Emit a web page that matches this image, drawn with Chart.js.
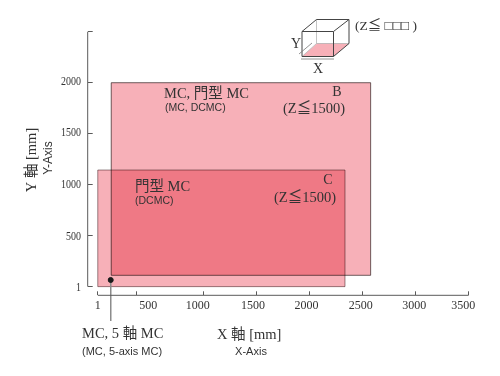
<!DOCTYPE html>
<html>
<head>
<meta charset="utf-8">
<title>MC X-Y range</title>
<script src="https://cdn.jsdelivr.net/npm/chart.js@4"></script>
<style>
    html, body { margin: 0; padding: 0; background: #fff; }
    canvas { display: block; }
</style>
</head>
<body>
<canvas id="myChart" width="500" height="376"></canvas>
<script>
// ranges, in mm
const rangeBX = [128, 2575, 2575, 128, 128];
const rangeBY = [112, 112, 2000, 2000, 112];
const rangeCX = [1, 2333, 2333, 1, 1];
const rangeCY = [1, 1, 1144, 1144, 1];
const pointX = [123];
const pointY = [66];
const leaderX = [123, 123];
const leaderY = [66, -336];

const xTickValues = [1, 371, 1000, 1500, 2000, 2500, 3000, 3500];
const yTickValues = [1, 500, 1000, 1500, 2000, 2500];
// the printed labels do not sit exactly on the ticks
const xLabels = ['1', '500', '1000', '1500', '2000', '2500', '3000', '3500'];
const xLabelValues = [1, 477, 943, 1465, 1970, 2481, 2987, 3449];
const yLabels = ['1', '500', '1000', '1500', '2000'];
const yLabelValues = [-15, 490, 1000, 1510, 2005];

const SERIF = '"Liberation Serif", "Noto Sans CJK JP", serif';
const SANS = '"Liberation Sans", sans-serif';
const TEXT = '#333';
const AXIS = '#5a5a5a';
const PINK = '#f7b0b8';

function toPoints(xs, ys) {
    return xs.map((x, i) => ({ x: x, y: ys[i] }));
}

function text(ctx, str, x, y, size, family, align) {
    ctx.font = size + 'px ' + family;
    ctx.textAlign = align || 'left';
    ctx.textBaseline = 'middle';
    ctx.fillStyle = TEXT;
    ctx.fillText(str, x, y);
}

function line(ctx, pts, color, width) {
    ctx.strokeStyle = color;
    ctx.lineWidth = width;
    ctx.beginPath();
    pts.forEach((p, i) => i ? ctx.lineTo(p[0], p[1]) : ctx.moveTo(p[0], p[1]));
    ctx.stroke();
}

// the two ranges darken each other where they overlap.
// datasets draw last to first and the filler runs before our own
// beforeDatasetDraw, so switch the mode on for the whole pass and off after C
const overlap = {
    id: 'overlap',
    beforeDatasetsDraw(chart) {
        chart.ctx.globalCompositeOperation = 'multiply';
    },
    afterDatasetDraw(chart, args) {
        if (args.index === 2) chart.ctx.globalCompositeOperation = 'source-over';
    }
};

const axisLines = {
    id: 'axisLines',
    afterDatasetsDraw(chart) {
        const ctx = chart.ctx;
        const xs = chart.scales.x;
        const ys = chart.scales.y;
        ctx.save();
        line(ctx, [[xs.left, ys.getPixelForValue(1)], [xs.left, ys.getPixelForValue(2500)]], AXIS, 1);
        line(ctx, [[xs.getPixelForValue(1), ys.bottom], [xs.getPixelForValue(3500), ys.bottom]], AXIS, 1);

        xLabels.forEach((l, i) => text(ctx, l, xs.getPixelForValue(xLabelValues[i]), 306, 12, SERIF, 'center'));
        yLabels.forEach((l, i) => {
            // y labels are printed narrower than the x ones
            ctx.save();
            ctx.translate(81, ys.getPixelForValue(yLabelValues[i]));
            ctx.scale(0.83, 1);
            text(ctx, l, 0, 0, 12, SERIF, 'right');
            ctx.restore();
        });
        ctx.restore();
    }
};

const annotations = {
    id: 'annotations',
    afterDraw(chart) {
        const ctx = chart.ctx;
        ctx.save();

        text(ctx, 'MC, 門型 MC', 164, 94, 14.5, SERIF);
        text(ctx, '(MC, DCMC)', 165, 108, 10.5, SANS);
        text(ctx, 'B', 337, 92, 14, SERIF, 'center');
        text(ctx, '(Z≦1500)', 345, 109, 14.5, SERIF, 'right');
        text(ctx, '門型 MC', 135, 187, 14.5, SERIF);
        text(ctx, '(DCMC)', 135, 201, 10.5, SANS);
        text(ctx, 'C', 328, 180, 14, SERIF, 'center');
        text(ctx, '(Z≦1500)', 336, 198, 14.5, SERIF, 'right');

        text(ctx, 'MC, 5 軸 MC', 82, 334, 14.5, SERIF);
        text(ctx, '(MC, 5-axis MC)', 82, 352, 11, SANS);
        text(ctx, 'X 軸 [mm]', 217, 335, 14.5, SERIF);
        text(ctx, 'X-Axis', 251, 352, 11, SANS, 'center');

        ctx.save();
        ctx.translate(32, 160);
        ctx.rotate(-Math.PI / 2);
        text(ctx, 'Y 軸 [mm]', 0, 0, 14.5, SERIF, 'center');
        ctx.restore();
        ctx.save();
        ctx.translate(49, 158);
        ctx.rotate(-Math.PI / 2);
        text(ctx, 'Y-Axis', 0, 0, 12, SANS, 'center');
        ctx.restore();

        // little cube key, top right
        ctx.fillStyle = PINK;
        ctx.beginPath();
        ctx.moveTo(302, 56.5);
        ctx.lineTo(333.5, 56.5);
        ctx.lineTo(349, 43.5);
        ctx.lineTo(317, 43.5);
        ctx.closePath();
        ctx.fill();
        line(ctx, [[316.5, 19.5], [316.5, 43.5], [349, 43.5]], '#aaa', 0.7);
        line(ctx, [[316.5, 43.5], [302, 56.5]], '#aaa', 0.7);
        line(ctx, [[302, 31.5], [333.5, 31.5], [333.5, 56.5], [302, 56.5], [302, 31.5]], '#444', 1);
        line(ctx, [[302, 31.5], [316.5, 19.5], [349, 19.5], [333.5, 31.5]], '#444', 1);
        line(ctx, [[349, 19.5], [349, 43.5], [333.5, 56.5]], '#444', 1);
        line(ctx, [[301, 59], [334, 59]], '#777', 0.8);
        line(ctx, [[299, 54], [312, 43]], '#777', 0.8);
        text(ctx, 'Y', 296, 44, 14, SERIF, 'center');
        text(ctx, 'X', 318, 69, 14, SERIF, 'center');
        text(ctx, '(Z≦ □□□ )', 355, 26, 13.5, SERIF);

        ctx.restore();
    }
};

const ctx = document.getElementById('myChart').getContext('2d');
const myChart = new Chart(ctx, {
    type: 'scatter',
    data: {
        datasets: [{
            data: toPoints(pointX, pointY),
            backgroundColor: '#1a1a1a',
            borderColor: '#1a1a1a',
            pointRadius: 2.5
        }, {
            data: toPoints(leaderX, leaderY),
            showLine: true,
            borderColor: '#8c8c8c',
            borderWidth: 1,
            pointRadius: 0,
            clip: false
        }, {
            data: toPoints(rangeCX, rangeCY),
            showLine: true,
            fill: 'shape',
            backgroundColor: PINK,
            borderColor: '#9a8a8c',
            borderWidth: 1,
            // a solid dash keeps Chart.js off its fast path, which doubles the closing edge
            borderDash: [4000, 1],
            pointRadius: 0,
            tension: 0
        }, {
            data: toPoints(rangeBX, rangeBY),
            showLine: true,
            fill: 'shape',
            backgroundColor: PINK,
            borderColor: '#6e6666',
            borderWidth: 1,
            borderDash: [4000, 1],
            pointRadius: 0,
            tension: 0
        }]
    },
    options: {
        responsive: false,
        animation: false,
        layout: { padding: { top: 31.7, right: 31.3, left: 0, bottom: 0 } },
        plugins: {
            legend: { display: false },
            tooltip: { enabled: false }
        },
        scales: {
            x: {
                type: 'linear',
                min: -94,
                max: 3500,
                border: { display: false },
                grid: { drawOnChartArea: false, drawTicks: true, tickLength: -4, tickColor: AXIS, tickWidth: 1 },
                ticks: { display: false },
                afterBuildTicks(scale) { scale.ticks = xTickValues.map(v => ({ value: v })); },
                afterFit(scale) { scale.height = 80.7; }
            },
            y: {
                type: 'linear',
                min: -84,
                max: 2500,
                border: { display: false },
                grid: { drawOnChartArea: false, drawTicks: true, tickLength: -5, tickColor: AXIS, tickWidth: 1 },
                ticks: { display: false },
                afterBuildTicks(scale) { scale.ticks = yTickValues.map(v => ({ value: v })); },
                afterFit(scale) { scale.width = 87.7; }
            }
        }
    },
    plugins: [overlap, axisLines, annotations]
});
</script>
</body>
</html>
